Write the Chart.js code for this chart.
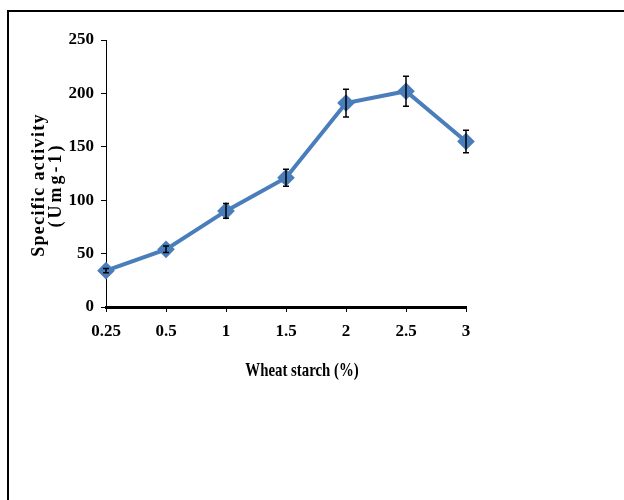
<!DOCTYPE html>
<html>
<head>
<meta charset="utf-8">
<script src="https://cdn.jsdelivr.net/npm/chart.js@4.4.1/dist/chart.umd.min.js"></script>
<style>
  body { margin: 0; background: #fff; }
  #wrap { position: relative; width: 624px; height: 500px; overflow: hidden; }
  #frame { position: absolute; left: 7px; top: 10px; width: 630px; height: 500px;
           border-top: 2px solid #000; border-left: 2px solid #000; }
  canvas { position: absolute; left: 0; top: 0; }
</style>
</head>
<body>
<div id="wrap">
  <div id="frame"></div>
  <canvas id="chart" width="624" height="500"></canvas>
</div>
<script>
const starch = ["0.25", "0.5", "1", "1.5", "2", "2.5", "3"];
const activity = [34, 54, 90, 121, 191, 202, 155];
const errors = [2, 3, 7, 8, 13, 14, 10.5];
const yTicks = [0, 50, 100, 150, 200, 250];
const xTitle = "Wheat starch (%)";
const yTitle = ["Specific activity", "(Umg-1)"];

const serif = '"Liberation Serif", "Times New Roman", serif';

// error bars drawn from the data through the scales
const errorBars = {
  id: "errorBars",
  afterDatasetsDraw(chart) {
    const { ctx, scales: { x, y } } = chart;
    ctx.save();
    ctx.strokeStyle = "#000";
    ctx.lineWidth = 1.5;
    activity.forEach((v, i) => {
      const px = x.getPixelForValue(i);
      const top = y.getPixelForValue(v + errors[i]);
      const bot = y.getPixelForValue(v - errors[i]);
      ctx.beginPath();
      ctx.moveTo(px, top); ctx.lineTo(px, bot);
      ctx.moveTo(px - 3, top); ctx.lineTo(px + 3, top);
      ctx.moveTo(px - 3, bot); ctx.lineTo(px + 3, bot);
      ctx.stroke();
    });
    ctx.restore();
  }
};

// axis titles, narrow bold serif like the original
const axisTitles = {
  id: "axisTitles",
  afterDraw(chart) {
    const { ctx, chartArea } = chart;
    ctx.save();
    ctx.fillStyle = "#000";
    ctx.textAlign = "center";
    ctx.textBaseline = "middle";
    ctx.font = "bold 19px " + serif;
    ctx.save();
    ctx.translate(chartArea.left + 196, 371);
    ctx.scale(0.78, 1);
    ctx.fillText(xTitle, 0, 0);
    ctx.restore();

    ctx.translate(0, 185);
    ctx.rotate(-Math.PI / 2);
    ctx.font = "bold 18px " + serif;
    ctx.letterSpacing = "1.3px";
    ctx.fillText(yTitle[0], 0, 39);
    ctx.letterSpacing = "3px";
    ctx.fillText(yTitle[1], 0, 56);
    ctx.restore();
  }
};

const tickFont = { family: serif, size: 17, weight: "bold" };

new Chart(document.getElementById("chart"), {
  type: "line",
  data: {
    labels: starch,
    datasets: [{
      data: activity,
      borderColor: "#4a7ebb",
      backgroundColor: "#4a7ebb",
      borderWidth: 4,
      pointStyle: "rectRot",
      pointRadius: 6,
      pointHoverRadius: 6,
      tension: 0
    }]
  },
  options: {
    responsive: false,
    animation: false,
    layout: { padding: { left: 0, top: 40, right: 158, bottom: 0 } },
    plugins: { legend: { display: false }, tooltip: { enabled: false } },
    scales: {
      x: {
        offset: false,
        afterFit: s => { s.height = 193; },
        grid: { drawOnChartArea: false, tickLength: 5, color: "#000", tickWidth: 1 },
        border: { color: "#000", width: 3 },
        ticks: { color: "#000", padding: 9, maxRotation: 0, font: tickFont }
      },
      y: {
        min: 0, max: 250,
        afterFit: s => { s.width = 106; },
        afterBuildTicks: s => { s.ticks = yTicks.map(v => ({ value: v })); },
        grid: { drawOnChartArea: false, tickLength: 5, color: "#000", tickWidth: 1 },
        border: { color: "#000", width: 1 },
        ticks: { color: "#000", padding: 7, font: tickFont }
      }
    }
  },
  plugins: [errorBars, axisTitles]
});
</script>
</body>
</html>
